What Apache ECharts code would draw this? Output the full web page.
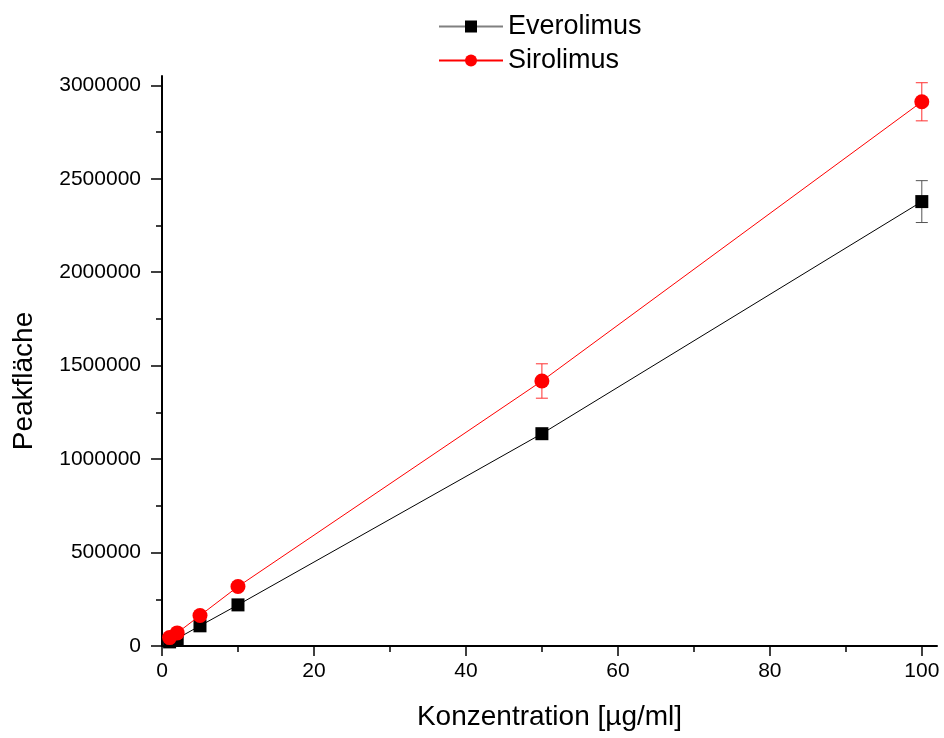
<!DOCTYPE html>
<html lang="de">
<head>
    <meta charset="UTF-8">
    <title>Peakfläche</title>
    <style>
        html, body { margin: 0; padding: 0; background: white; }
        #chart { width: 944px; height: 738px; }
    </style>
    <script src="https://cdn.jsdelivr.net/npm/echarts@6/dist/echarts.min.js"></script>
</head>
<body>
<div id="chart"></div>
<script>
    // Konzentration [µg/ml]
    const konz = [1, 2, 5, 10, 50, 100];
    const everolimus = [22000, 40000, 108000, 220000, 1136000, 2378000];
    const everolimusErr = [5000, 6000, 9000, 12000, 20000, 112000];
    const sirolimus = [45000, 70000, 163000, 318000, 1418000, 2912000];
    const sirolimusErr = [5000, 7000, 10000, 14000, 92000, 102000];

    const xMajor = [0, 20, 40, 60, 80, 100];
    const xMinor = [10, 30, 50, 70, 90];
    const yMajor = [0, 500000, 1000000, 1500000, 2000000, 2500000, 3000000];
    const yMinor = [250000, 750000, 1250000, 1750000, 2250000, 2750000];

    const font = 'Liberation Sans, Arial, sans-serif';

    function pairs(ys) {
        return konz.map((x, i) => [x, ys[i]]);
    }

    function errData(ys, errs) {
        return konz.map((x, i) => [x, ys[i] - errs[i], ys[i] + errs[i]]);
    }

    function errSeries(name, ys, errs, color) {
        return {
            type: 'custom',
            name: name,
            data: errData(ys, errs),
            z: 1,
            silent: true,
            renderItem: function (params, api) {
                let lo = api.coord([api.value(0), api.value(1)]);
                let hi = api.coord([api.value(0), api.value(2)]);
                let w = 6;
                let st = {stroke: color, lineWidth: 1};
                return {
                    type: 'group',
                    children: [
                        {type: 'line', shape: {x1: lo[0], y1: lo[1], x2: hi[0], y2: hi[1]}, style: st},
                        {type: 'line', shape: {x1: lo[0] - w, y1: lo[1], x2: lo[0] + w, y2: lo[1]}, style: st},
                        {type: 'line', shape: {x1: hi[0] - w, y1: hi[1], x2: hi[0] + w, y2: hi[1]}, style: st}
                    ]
                };
            }
        };
    }

    // zweite Achse nur fuer die kurzen Zwischenstriche
    function minorAxis(base, ticks, pos) {
        return Object.assign({}, base, {
            name: '',
            position: pos,
            offset: 0,
            axisLine: {show: false},
            axisLabel: {show: false},
            axisTick: {show: true, inside: false, length: 6, lineStyle: {color: '#000', width: 1.5}, customValues: ticks}
        });
    }

    let xBase = {
        type: 'value',
        gridIndex: 0,
        min: 0,
        max: 102,
        splitLine: {show: false}
    };
    let yBase = {
        type: 'value',
        gridIndex: 0,
        min: 0,
        max: 3050000,
        splitLine: {show: false}
    };

    let fig = echarts.init(document.getElementById('chart'), null, {renderer: 'canvas'});

    let option = {
        backgroundColor: '#ffffff',
        animation: false,
        legend: {
            data: [
                {name: 'Everolimus', lineStyle: {color: '#808080'}},
                {name: 'Sirolimus'}
            ],
            orient: 'vertical',
            left: 433,
            top: 8,
            itemWidth: 64,
            itemHeight: 15,
            itemGap: 7,
            textStyle: {fontFamily: font, fontSize: 27, color: '#000'}
        },
        grid: {left: 162, right: 7, top: 76, bottom: 92, containLabel: false},
        xAxis: [
            Object.assign({}, xBase, {
                position: 'bottom',
                name: 'Konzentration [µg/ml]',
                nameLocation: 'middle',
                nameGap: 57,
                nameTextStyle: {fontFamily: font, fontSize: 28, color: '#000'},
                axisLine: {show: true, lineStyle: {color: '#000', width: 2}},
                axisTick: {show: true, length: 10, lineStyle: {color: '#000', width: 1.5}, customValues: xMajor},
                axisLabel: {fontFamily: font, fontSize: 21, color: '#000', margin: 15, customValues: xMajor}
            }),
            minorAxis(xBase, xMinor, 'bottom')
        ],
        yAxis: [
            Object.assign({}, yBase, {
                position: 'left',
                name: 'Peakfläche',
                nameLocation: 'middle',
                nameGap: 124,
                nameTextStyle: {fontFamily: font, fontSize: 28, color: '#000', padding: [0, 40, 0, 0]},
                axisLine: {show: true, lineStyle: {color: '#000', width: 2}},
                axisTick: {show: true, length: 11, lineStyle: {color: '#000', width: 1.5}, customValues: yMajor},
                axisLabel: {
                    fontFamily: font, fontSize: 21, color: '#000', margin: 21, customValues: yMajor,
                    formatter: (v) => String(v)
                }
            }),
            minorAxis(yBase, yMinor, 'left')
        ],
        series: [
            errSeries('Everolimus Fehler', everolimus, everolimusErr, '#555555'),
            errSeries('Sirolimus Fehler', sirolimus, sirolimusErr, '#ff3030'),
            {
                name: 'Everolimus',
                type: 'line',
                data: pairs(everolimus),
                symbol: 'rect',
                symbolSize: 13,
                z: 3,
                itemStyle: {color: '#000000'},
                lineStyle: {color: '#000000', width: 1}
            },
            {
                name: 'Sirolimus',
                type: 'line',
                data: pairs(sirolimus),
                symbol: 'circle',
                symbolSize: 15,
                z: 4,
                itemStyle: {color: '#ff0000'},
                lineStyle: {color: '#ff0000', width: 1}
            }
        ]
    };
    fig.setOption(option);
</script>
</body>
</html>
